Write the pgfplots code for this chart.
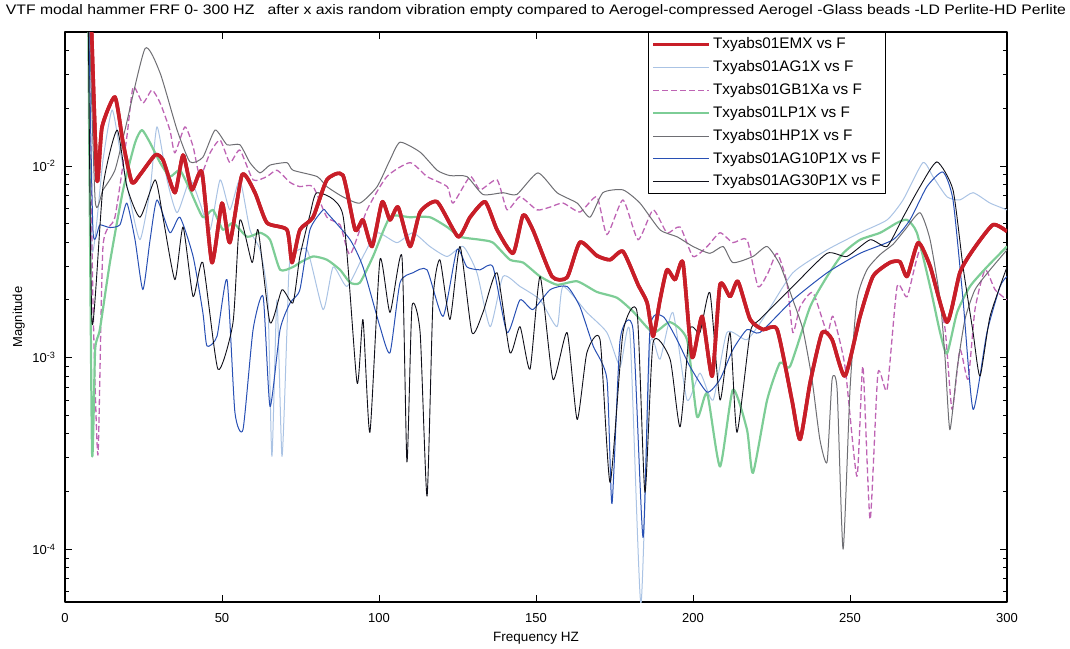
\documentclass[border=0pt]{standalone}
\usepackage{pgfplots}
\pgfplotsset{compat=1.18}
\usepackage{fontspec}
\setmainfont{Liberation Sans}
\definecolor{emx}{RGB}{200,30,40}
\definecolor{ag1}{RGB}{170,195,228}
\definecolor{gb1}{RGB}{190,100,180}
\definecolor{lp1}{RGB}{125,205,150}
\definecolor{hp1}{RGB}{110,110,115}
\definecolor{ag10}{RGB}{40,80,180}
\definecolor{ag30}{RGB}{15,15,25}
\begin{document}
\begin{tikzpicture}
\useasboundingbox (-65pt,-46pt) rectangle (1005pt,602pt);
\begin{axis}[
 at={(0pt,0pt)}, anchor=south west,
 scale only axis, width=942pt, height=570pt,
 clip mode=individual,
 xmin=0, xmax=300, ymode=log, ymin=5.3e-5, ymax=5e-2,
 xtick={0,50,100,150,200,250,300}, xticklabels={0,50,100,150,200,250,300},
 ytick={1e-4,1e-3,1e-2}, yticklabels={10\textsuperscript{-4},10\textsuperscript{-3},10\textsuperscript{-2}},
 minor ytick={6e-5,7e-5,8e-5,9e-5,2e-4,3e-4,4e-4,5e-4,6e-4,7e-4,8e-4,9e-4,2e-3,3e-3,4e-3,5e-3,6e-3,7e-3,8e-3,9e-3,2e-2,3e-2,4e-2,5e-2},
 tick align=inside, major tick length=7pt, minor tick length=4pt,
 every tick/.style={black, line width=0.8pt},
 axis line style={line width=1.2pt},
 ticklabel style={font=\fontsize{13}{13}\selectfont},
 xticklabel style={anchor=base, yshift=-20pt},
 yticklabel style={xshift=-6pt},
 xlabel={Frequency HZ}, ylabel={Magnitude},
 every axis x label/.style={at={(axis description cs:0.5,-0.0684)}, anchor=base, font=\fontsize{13.5}{14}\selectfont},
 every axis y label/.style={at={(axis description cs:-0.0456,0.5)}, rotate=90, anchor=base, font=\fontsize{13}{14}\selectfont},
 legend style={at={(axis description cs:0.6189,1)}, anchor=north west, draw=black, line width=1pt, fill=white,
   font=\fontsize{15.3}{16}\selectfont, inner xsep=3pt, inner ysep=3pt, row sep=4.8pt,
   nodes={inner sep=2pt, text depth=3pt}},
 legend cell align=left,
 legend image code/.code={\draw[#1] (0pt,0pt) -- (56pt,0pt);},
 line join=round,
 every axis plot/.append style={smooth, tension=0.35},
]
\addplot[emx, line width=3.6pt] coordinates {(8.2,0.07) (10.2,8.46e-3) (11.8,1.6e-2) (15.9,2.29e-2) (18.5,1.32e-2) (21.3,8.2e-3) (23.9,9.0e-3) (28.7,1.14e-2) (31.2,1.075e-2) (35.0,7.25e-3) (37.6,1.14e-2) (40.4,7.5e-3) (43.6,9.3e-3) (46.8,3.13e-3) (50.0,6.4e-3) (52.5,3.98e-3) (56.4,9.0e-3) (60.5,7.25e-3) (64.3,5.05e-3) (70.7,4.64e-3) (72.3,3.13e-3) (74.8,4.64e-3) (79.0,5.4e-3) (83.4,8.46e-3) (88.5,8.95e-3) (92.4,4.64e-3) (94.9,5.23e-3) (97.8,3.8e-3) (101.0,6.5e-3) (103.5,5.23e-3) (106.1,6.1e-3) (109.9,3.8e-3) (113.1,5.75e-3) (118.5,6.5e-3) (125.2,4.27e-3) (129.0,5.4e-3) (133.8,6.5e-3) (137.6,4.64e-3) (142.7,3.5e-3) (145.9,5.55e-3) (149.0,4.64e-3) (155.1,2.65e-3) (159.9,2.62e-3) (164.0,4.0e-3) (169.4,3.4e-3) (173.6,3.24e-3) (177.7,3.58e-3) (182.5,2.4e-3) (185.4,1.93e-3) (187.3,1.29e-3) (189.5,2.0e-3) (191.7,2.87e-3) (194.3,2.55e-3) (196.8,3.13e-3) (199.7,1.0e-3) (202.9,1.64e-3) (206.1,8.0e-4) (208.6,2.4e-3) (211.8,2.08e-3) (214.3,2.5e-3) (218.2,1.58e-3) (222.3,1.4e-3) (226.8,1.4e-3) (231.5,6.0e-4) (234.1,3.74e-4) (237.3,7.4e-4) (241.1,1.35e-3) (244.3,1.24e-3) (248.4,8.0e-4) (253.2,1.64e-3) (257.3,2.65e-3) (262.7,3.13e-3) (265.9,3.16e-3) (268.2,2.65e-3) (271.7,3.98e-3) (275.5,3.0e-3) (280.9,1.53e-3) (285.0,2.78e-3) (289.2,3.65e-3) (295.5,4.93e-3) (300,4.55e-3)};
\addlegendentry{Txyabs01EMX vs F}
\addplot[ag1, line width=1pt] coordinates {(7.3,0.1) (8.6,3.65e-3) (12.1,1.075e-2) (15.0,1.96e-2) (17.5,1.21e-2) (20.7,6.65e-3) (23.9,4.12e-3) (27.1,7.5e-3) (29.3,1.6e-2) (32.5,8.46e-3) (35.7,5.7e-3) (39.8,8.46e-3) (43.0,6.4e-3) (46.2,4.64e-3) (49.4,8.46e-3) (52.5,5.9e-3) (55.7,8.46e-3) (58.9,4.64e-3) (62.1,3.65e-3) (64.6,2.0e-3) (65.9,3.05e-4) (67.5,2.0e-3) (69.1,3.05e-4) (70.7,1.4e-3) (71.7,3.24e-3) (77.1,3.65e-3) (82.2,1.78e-3) (85.4,2.97e-3) (89.8,2.35e-3) (94.9,3.37e-3) (99.4,4.48e-3) (105.7,3.98e-3) (110.8,4.48e-3) (116.2,3.8e-3) (121.7,3.37e-3) (126.8,3.8e-3) (131.2,2.77e-3) (135.4,1.45e-3) (139.5,2.65e-3) (144.9,2.35e-3) (151.3,2.0e-3) (156.7,1.45e-3) (158.6,2.35e-3) (166.2,1.72e-3) (172.6,1.35e-3) (176.8,9.0e-4) (179.9,1.35e-3) (183.4,5.2e-5) (186.3,1.15e-3) (189.5,9.8e-4) (193.6,1.72e-3) (198.1,6.0e-4) (202.2,8.3e-4) (206.4,6.0e-4) (210.8,1.35e-3) (217.2,1.24e-3) (223.6,1.72e-3) (231.8,2.77e-3) (242.7,3.65e-3) (253.2,4.48e-3) (261.8,5.23e-3) (266.9,6.65e-3) (273.2,1.04e-2) (276.4,8.8e-3) (280.9,6.9e-3) (285.0,6.65e-3) (289.2,7.25e-3) (294.6,6.4e-3) (300,5.9e-3)};
\addlegendentry{Txyabs01AG1X vs F}
\addplot[gb1, line width=1.3pt, dash pattern=on 6pt off 3pt] coordinates {(7.3,0.1) (8.9,2.0e-3) (10.5,3.1e-4) (12.1,3.8e-3) (15.9,5.4e-3) (19.7,1.42e-2) (21.7,2.58e-2) (24.8,2.13e-2) (27.7,2.49e-2) (30.3,2.13e-2) (33.4,1.54e-2) (35.0,1.17e-2) (38.2,1.6e-2) (40.8,1.26e-2) (43.0,8.8e-3) (46.2,1.17e-2) (49.4,1.365e-2) (52.5,1.04e-2) (55.7,1.21e-2) (59.9,8.46e-3) (64.3,8.8e-3) (67.5,9.5e-3) (71.7,8.2e-3) (74.8,7.8e-3) (79.0,7.8e-3) (83.4,5.4e-3) (87.6,4.93e-3) (90.8,3.45e-3) (96.2,5.9e-3) (102.5,8.8e-3) (109.9,1.04e-2) (115.3,8.8e-3) (121.7,7.8e-3) (123.6,6.4e-3) (129.0,8.8e-3) (132.2,7.5e-3) (137.6,8.46e-3) (140.8,5.9e-3) (144.9,6.9e-3) (150.3,5.9e-3) (154.5,6.1e-3) (158.6,6.4e-3) (164.0,5.75e-3) (169.4,6.9e-3) (172.6,4.38e-3) (177.7,6.65e-3) (182.5,4.12e-3) (187.3,5.9e-3) (191.7,4.48e-3) (195.9,4.8e-3) (200.0,3.37e-3) (204.5,3.8e-3) (208.6,4.48e-3) (212.7,3.98e-3) (217.2,4.12e-3) (220.7,2.35e-3) (223.9,2.77e-3) (226.8,3.5e-3) (229.9,2.46e-3) (231.8,1.35e-3) (234.1,1.84e-3) (238.2,2.18e-3) (242.7,1.35e-3) (244.6,1.64e-3) (248.4,9.0e-4) (252.2,2.4e-4) (254.1,9.0e-4) (256.4,1.43e-4) (258.9,8.3e-4) (261.8,6.8e-4) (265.0,2.35e-3) (268.2,2.08e-3) (272.3,3.65e-3) (277.1,2.55e-3) (280.3,1.4e-3) (282.5,5.36e-4) (285.0,1.1e-3) (287.6,7.7e-4) (289.8,1.78e-3) (293.0,2.87e-3) (296.2,2.26e-3) (300,2.0e-3)};
\addlegendentry{Txyabs01GB1Xa vs F}
\addplot[lp1, line width=2.2pt] coordinates {(7.3,0.1) (8.6,3.3e-4) (9.6,1.1e-3) (11.1,1.4e-3) (14.3,3.13e-3) (18.5,7.5e-3) (22.3,1.32e-2) (24.5,1.54e-2) (27.1,1.32e-2) (30.3,1.04e-2) (33.4,8.8e-3) (36.6,9.5e-3) (39.8,7.5e-3) (43.9,5.4e-3) (47.1,5.9e-3) (50.3,4.64e-3) (53.5,5.05e-3) (58.0,4.27e-3) (62.1,4.48e-3) (65.3,4.12e-3) (68.5,2.87e-3) (72.6,2.97e-3) (74.8,3.13e-3) (79.0,3.37e-3) (83.4,3.24e-3) (87.6,2.87e-3) (90.8,2.46e-3) (93.9,2.46e-3) (98.1,3.37e-3) (103.5,5.4e-3) (109.9,5.4e-3) (116.2,5.4e-3) (121.7,4.8e-3) (125.8,4.27e-3) (132.2,4.12e-3) (136.3,3.98e-3) (141.7,3.24e-3) (145.9,3.13e-3) (151.3,2.65e-3) (156.7,2.4e-3) (163.1,2.5e-3) (169.4,2.2e-3) (175.8,2.05e-3) (180.9,1.74e-3) (187.3,1.35e-3) (192.7,1.53e-3) (198.1,1.24e-3) (201.3,4.9e-4) (204.5,6.5e-4) (208.6,2.7e-4) (212.7,6.8e-4) (217.2,4.2e-4) (219.1,2.5e-4) (223.6,6.0e-4) (227.7,9.4e-4) (230.9,9.0e-4) (237.3,1.84e-3) (242.7,2.65e-3) (247.8,3.5e-3) (253.2,4.12e-3) (259.6,4.48e-3) (265.0,5.05e-3) (268.2,5.23e-3) (271.3,4.48e-3) (275.5,2.35e-3) (278.7,1.35e-3) (280.9,1.05e-3) (284.1,1.72e-3) (288.2,2.35e-3) (293.6,2.97e-3) (300,3.8e-3)};
\addlegendentry{Txyabs01LP1X vs F}
\addplot[hp1, line width=1pt] coordinates {(7.3,0.1) (9.6,6.65e-3) (12.1,7.5e-3) (15.9,9.5e-3) (19.1,1.54e-2) (25.5,4.1e-2) (30.3,3.05e-2) (35.7,1.54e-2) (39.8,1.05e-2) (43.9,1.11e-2) (47.8,1.54e-2) (51.6,1.29e-2) (55.7,1.29e-2) (58.9,1.04e-2) (62.1,9.2e-3) (65.3,1.01e-2) (70.7,1.04e-2) (72.6,9.5e-3) (80.3,8.8e-3) (83.4,7.8e-3) (88.5,6.9e-3) (93.9,6.4e-3) (99.4,7.8e-3) (103.5,1.075e-2) (106.7,1.33e-2) (113.1,1.18e-2) (118.5,9.5e-3) (122.6,8.9e-3) (128.0,8.8e-3) (133.1,7.1e-3) (139.5,7.25e-3) (143.9,7.1e-3) (150.6,9.2e-3) (156.7,7.25e-3) (163.1,6.4e-3) (167.2,5.4e-3) (171.3,7.25e-3) (177.7,7.5e-3) (183.1,6.4e-3) (189.5,4.64e-3) (194.9,4.27e-3) (200.0,3.8e-3) (205.4,3.5e-3) (209.6,3.8e-3) (212.7,3.13e-3) (219.1,3.37e-3) (223.6,3.8e-3) (227.7,3.05e-3) (231.8,2.0e-3) (235.0,1.4e-3) (237.9,7.7e-4) (240.4,3.74e-4) (242.7,2.85e-4) (244.3,7.7e-4) (245.9,6.8e-4) (247.8,1.0e-4) (250.0,6.8e-4) (252.2,2.0e-3) (255.4,2.87e-3) (259.6,3.45e-3) (263.7,3.9e-3) (267.5,4.64e-3) (272.3,5.7e-3) (275.5,4.12e-3) (278.7,2.0e-3) (280.3,9.8e-4) (281.8,4.2e-4) (284.1,8.7e-4) (286.6,1.58e-3) (289.8,2.26e-3) (294.6,2.87e-3) (300,3.65e-3)};
\addlegendentry{Txyabs01HP1X vs F}
\addplot[ag10, line width=1pt] coordinates {(7.3,0.1) (8.9,4.64e-3) (11.1,4.93e-3) (14.3,4.77e-3) (17.5,4.93e-3) (19.7,6.4e-3) (22.3,4.12e-3) (24.8,2.26e-3) (27.1,4.12e-3) (29.3,6.65e-3) (33.4,4.48e-3) (36.6,5.4e-3) (40.8,3.37e-3) (43.9,1.72e-3) (45.2,1.15e-3) (48.4,1.29e-3) (51.6,2.55e-3) (54.1,5.2e-4) (56.7,4.22e-4) (59.9,1.4e-3) (63.1,2.08e-3) (65.3,5.55e-4) (68.5,1.4e-3) (71.7,1.93e-3) (74.8,2.26e-3) (78.0,4.64e-3) (82.2,5.9e-3) (83.4,5.7e-3) (90.8,4.12e-3) (94.9,2.97e-3) (100.3,1.45e-3) (103.5,1.06e-3) (106.7,2.46e-3) (110.8,2.77e-3) (115.3,2.87e-3) (120.4,1.64e-3) (124.8,3.65e-3) (128.0,2.97e-3) (132.2,2.87e-3) (136.3,2.97e-3) (140.8,1.35e-3) (144.9,2.0e-3) (149.0,1.78e-3) (154.5,2.26e-3) (159.9,2.35e-3) (164.0,1.84e-3) (168.2,1.15e-3) (172.6,7.7e-4) (174.2,1.73e-4) (176.8,1.24e-3) (180.9,1.4e-3) (184.1,1.15e-4) (186.3,1.4e-3) (190.4,1.64e-3) (194.9,1.24e-3) (199.0,9.0e-4) (204.5,6.6e-4) (208.6,7.7e-4) (212.7,1.1e-3) (217.2,1.4e-3) (221.3,1.35e-3) (231.8,2.0e-3) (242.7,2.77e-3) (253.2,3.5e-3) (263.7,4.12e-3) (269.1,5.23e-3) (274.5,7.8e-3) (279.6,9.3e-3) (282.8,6.65e-3) (286.0,2.0e-3) (289.2,5.36e-4) (293.6,1.35e-3) (297.8,2.35e-3) (300,2.65e-3)};
\addlegendentry{Txyabs01AG10P1X vs F}
\addplot[ag30, line width=0.9pt] coordinates {(7.3,0.1) (8.6,1.52e-3) (12.1,7.8e-3) (16.6,1.54e-2) (19.7,7.8e-3) (23.9,5.4e-3) (28.7,8.46e-3) (31.2,5.4e-3) (35.0,2.55e-3) (37.6,4.8e-3) (40.8,2.08e-3) (43.9,3.13e-3) (48.7,8.7e-4) (53.5,1.52e-3) (55.7,5.23e-3) (59.6,3.13e-3) (61.5,4.64e-3) (65.3,1.52e-3) (69.1,2.26e-3) (72.6,1.93e-3) (74.8,3.37e-3) (78.0,5.55e-3) (80.3,7.25e-3) (88.5,5.55e-3) (93.0,7.4e-4) (94.9,1.58e-3) (97.1,4.07e-4) (100.3,3.24e-3) (103.5,1.72e-3) (107.3,3.37e-3) (108.9,2.85e-4) (110.5,1.84e-3) (113.1,1.35e-3) (115.3,1.89e-4) (117.2,2.0e-3) (119.4,3.24e-3) (122.6,1.58e-3) (125.8,3.8e-3) (129.6,1.35e-3) (133.1,1.72e-3) (137.6,2.77e-3) (141.7,1.06e-3) (144.9,1.45e-3) (148.1,8.7e-4) (151.3,2.65e-3) (155.4,7.7e-4) (159.9,1.35e-3) (163.1,4.75e-4) (166.2,1.06e-3) (170.4,1.24e-3) (173.6,2.23e-4) (177.7,1.35e-3) (182.2,1.72e-3) (184.7,1.98e-4) (187.3,1.2e-3) (192.7,9.8e-4) (195.9,4.35e-4) (199.0,1.4e-3) (202.2,1.35e-3) (205.4,2.18e-3) (208.6,6.0e-4) (211.8,1.35e-3) (214.0,4.07e-4) (218.2,1.35e-3) (221.3,1.58e-3) (231.8,2.35e-3) (242.7,3.5e-3) (249.0,3.37e-3) (256.4,4.12e-3) (261.8,3.8e-3) (266.9,5.4e-3) (272.3,7.8e-3) (277.7,1.05e-2) (282.8,7.5e-3) (286.0,2.97e-3) (289.2,1.35e-3) (291.4,8.0e-4) (294.6,1.64e-3) (300,2.97e-3)};
\addlegendentry{Txyabs01AG30P1X vs F}
\addplot[emx, line width=3.6pt, forget plot] coordinates {(8.2,0.07) (10.2,8.46e-3) (11.8,1.6e-2) (15.9,2.29e-2) (18.5,1.32e-2) (21.3,8.2e-3) (23.9,9.0e-3) (28.7,1.14e-2) (31.2,1.075e-2) (35.0,7.25e-3) (37.6,1.14e-2) (40.4,7.5e-3) (43.6,9.3e-3) (46.8,3.13e-3) (50.0,6.4e-3) (52.5,3.98e-3) (56.4,9.0e-3) (60.5,7.25e-3) (64.3,5.05e-3) (70.7,4.64e-3) (72.3,3.13e-3) (74.8,4.64e-3) (79.0,5.4e-3) (83.4,8.46e-3) (88.5,8.95e-3) (92.4,4.64e-3) (94.9,5.23e-3) (97.8,3.8e-3) (101.0,6.5e-3) (103.5,5.23e-3) (106.1,6.1e-3) (109.9,3.8e-3) (113.1,5.75e-3) (118.5,6.5e-3) (125.2,4.27e-3) (129.0,5.4e-3) (133.8,6.5e-3) (137.6,4.64e-3) (142.7,3.5e-3) (145.9,5.55e-3) (149.0,4.64e-3) (155.1,2.65e-3) (159.9,2.62e-3) (164.0,4.0e-3) (169.4,3.4e-3) (173.6,3.24e-3) (177.7,3.58e-3) (182.5,2.4e-3) (185.4,1.93e-3) (187.3,1.29e-3) (189.5,2.0e-3) (191.7,2.87e-3) (194.3,2.55e-3) (196.8,3.13e-3) (199.7,1.0e-3) (202.9,1.64e-3) (206.1,8.0e-4) (208.6,2.4e-3) (211.8,2.08e-3) (214.3,2.5e-3) (218.2,1.58e-3) (222.3,1.4e-3) (226.8,1.4e-3) (231.5,6.0e-4) (234.1,3.74e-4) (237.3,7.4e-4) (241.1,1.35e-3) (244.3,1.24e-3) (248.4,8.0e-4) (253.2,1.64e-3) (257.3,2.65e-3) (262.7,3.13e-3) (265.9,3.16e-3) (268.2,2.65e-3) (271.7,3.98e-3) (275.5,3.0e-3) (280.9,1.53e-3) (285.0,2.78e-3) (289.2,3.65e-3) (295.5,4.93e-3) (300,4.55e-3)};
\node[anchor=base, inner sep=0pt] at (axis description cs:0.5,1) [yshift=17.5pt] {\resizebox{1060pt}{10pt}{\fontsize{14}{14}\selectfont VTF modal hammer FRF 0- 300 HZ\ \ \ after x axis random vibration empty compared to Aerogel-compressed Aerogel -Glass beads -LD Perlite-HD Perlite}};
\end{axis}
\end{tikzpicture}
\end{document}
